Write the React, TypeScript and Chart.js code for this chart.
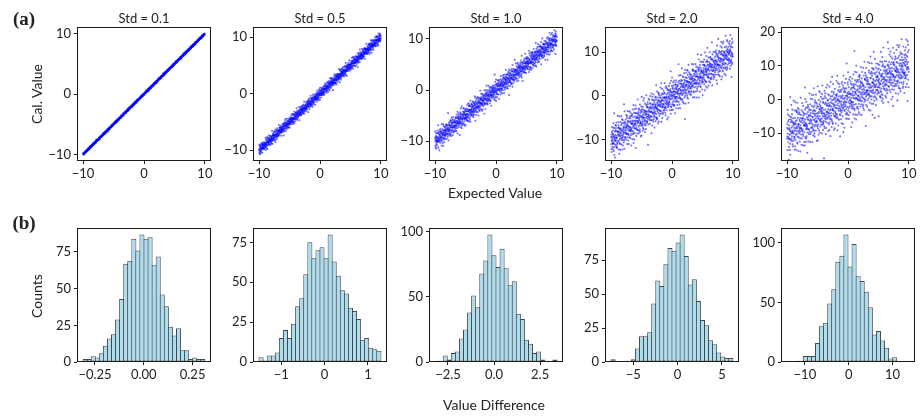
import React, { useEffect, useRef } from "react";
import { Chart, registerables } from "chart.js";

Chart.register(...registerables);

// Noise levels of the five simulated calibrations
const stdLabels = ["Std = 0.1", "Std = 0.5", "Std = 1.0", "Std = 2.0", "Std = 4.0"];

// Histogram counts of (calculated - expected), 30 bins per noise level
const counts01 = [2, 2, 4, 3, 6, 11, 16, 19, 29, 43, 67, 69, 84, 76, 87, 84, 85, 66, 72, 46, 38, 24, 18, 23, 8, 8, 2, 3, 2, 2];
const counts05 = [3, 1, 4, 4, 6, 15, 20, 15, 24, 35, 40, 55, 75, 65, 70, 72, 65, 80, 63, 54, 45, 43, 34, 32, 27, 14, 15, 9, 8, 7];
const counts10 = [1, 1, 5, 2, 7, 8, 18, 25, 38, 51, 42, 68, 78, 98, 82, 73, 87, 72, 59, 62, 37, 33, 17, 14, 7, 8, 2, 1, 0, 2];
const counts20 = [2, 0, 0, 1, 1, 2, 10, 19, 19, 22, 43, 60, 56, 72, 84, 82, 88, 94, 78, 57, 61, 45, 31, 27, 16, 13, 7, 4, 3, 3];
const counts40 = [1, 0, 1, 1, 5, 5, 5, 16, 30, 33, 49, 61, 84, 89, 107, 80, 99, 72, 68, 59, 46, 23, 26, 18, 12, 3, 4, 0, 0, 1];

// Outer bin edges of each histogram
const edges01 = [-0.311, 0.313];
const edges05 = [-1.51, 1.3];
const edges10 = [-3.2, 3.41];
const edges20 = [-7.5, 6.23];
const edges40 = [-14.06, 13.76];

// Expected values span this interval
const expectedRange = [-10, 10];

// Axis limits and ticks of the scatter row
const scatterXLimits = [-11, 11];
const scatterXTicks = [-10, 0, 10];
const scatterYLimits = [
  [-11.1, 11.1],
  [-11.9, 11.8],
  [-13.9, 12.35],
  [-14.8, 15.7],
  [-18.3, 21.5],
];
const scatterYTicks = [
  [-10, 0, 10],
  [-10, 0, 10],
  [-10, 0, 10],
  [-10, 0, 10],
  [-10, 0, 10, 20],
];

// Ticks of the histogram row
const histXTicks = [
  [-0.25, 0, 0.25],
  [-1, 0, 1],
  [-2.5, 0, 2.5],
  [-5, 0, 5],
  [-10, 0, 10],
];
const histXDecimals = [2, 0, 1, 0, 0];
const histYTicks = [
  [0, 25, 50, 75],
  [0, 25, 50, 75],
  [0, 50, 100],
  [0, 25, 50, 75],
  [0, 50, 100],
];

const allCounts = [counts01, counts05, counts10, counts20, counts40];
const allEdges = [edges01, edges05, edges10, edges20, edges40];

// Layout of the panel frames
const FRAME_LEFT = [77, 253, 429, 605, 781];
const FRAME_TOP = [27, 228];
const FRAME_W = 134;
const FRAME_H = 134;
const PAD_L = 44;
const PAD_T = 26;
const PAD_R = 12;
const PAD_B = 24;

const TEXT = "#222";
const FONT = "Lato, 'Open Sans', sans-serif";

function fmt(v: number, decimals: number) {
  const s = Math.abs(v) < 1e-12 ? (0).toFixed(decimals) : v.toFixed(decimals);
  return s.replace("-", "\u2212");
}

// Expand histogram counts back into the individual differences (ascending)
function differences(counts: number[], edges: number[]) {
  const bw = (edges[1] - edges[0]) / counts.length;
  const out: number[] = [];
  counts.forEach((c, i) => {
    for (let k = 0; k < c; k++) out.push(edges[0] + bw * (i + (k + 0.5) / c));
  });
  return out;
}

function radicalInverse(n: number, base: number) {
  let f = 1 / base;
  let r = 0;
  while (n > 0) {
    r += (n % base) * f;
    n = Math.floor(n / base);
    f /= base;
  }
  return r;
}

// Each difference is paired with an expected value; the pairing follows a
// Halton (2, 3) layout so the points cover the range evenly.
function scatterPoints(counts: number[], edges: number[], start: number) {
  const d = differences(counts, edges);
  const n = d.length;
  const [lo, hi] = expectedRange;
  const idx = d.map((_, j) => j);
  const order = [...idx].sort(
    (a, b) => radicalInverse(a + start, 3) - radicalInverse(b + start, 3)
  );
  const rank = new Array(n);
  order.forEach((j, k) => (rank[j] = k));
  return idx.map((j) => {
    const x = lo + (hi - lo) * radicalInverse(j + start, 2);
    return { x, y: x + d[rank[j]] };
  });
}

const framePlugin = {
  id: "frame",
  afterDraw(chart: any, _args: any, opts: any) {
    const { ctx, chartArea: a } = chart;
    ctx.save();
    ctx.strokeStyle = "#1a1a1a";
    ctx.lineWidth = 1;
    ctx.strokeRect(a.left + 0.5, a.top + 0.5, a.right - a.left - 1, a.bottom - a.top - 1);
    if (opts && opts.title) {
      ctx.fillStyle = TEXT;
      ctx.font = `13px ${FONT}`;
      ctx.textAlign = "center";
      ctx.textBaseline = "middle";
      ctx.fillText(opts.title, (a.left + a.right) / 2, a.top - 8);
    }
    ctx.restore();
  },
};

function axisOpts(min: number, max: number, ticks: number[], decimals: number, dir: "x" | "y") {
  return {
    type: "linear",
    min,
    max,
    offset: false,
    border: { display: false },
    grid: {
      display: true,
      drawOnChartArea: false,
      drawTicks: true,
      tickLength: 3,
      tickWidth: 1,
      tickColor: "#1a1a1a",
      color: "#1a1a1a",
      offset: false,
    },
    ticks: {
      color: TEXT,
      font: { family: FONT, size: 13 },
      padding: dir === "x" ? 2 : 3,
      autoSkip: false,
      maxRotation: 0,
      minRotation: 0,
      callback: (v: any) => fmt(Number(v), decimals),
    },
    afterBuildTicks: (s: any) => {
      s.ticks = ticks.map((v) => ({ value: v }));
    },
    afterFit: (s: any) => {
      if (dir === "y") s.width = PAD_L;
      else s.height = PAD_B;
    },
  };
}

function baseOptions(title: string | null) {
  return {
    animation: false,
    responsive: false,
    devicePixelRatio: 1,
    events: [],
    layout: { padding: { top: PAD_T, right: PAD_R, left: 0, bottom: 0 } },
    plugins: {
      legend: { display: false },
      tooltip: { enabled: false },
      frame: { title },
    },
  };
}

function scatterConfig(i: number) {
  return {
    type: "scatter",
    data: {
      datasets: [
        {
          data: scatterPoints(allCounts[i], allEdges[i], 1 + 211 * i),
          pointRadius: 1.05,
          pointHoverRadius: 0,
          pointBackgroundColor: "rgba(0,0,255,0.55)",
          pointBorderWidth: 0,
        },
      ],
    },
    options: {
      ...baseOptions(stdLabels[i]),
      scales: {
        x: axisOpts(scatterXLimits[0], scatterXLimits[1], scatterXTicks, 0, "x"),
        y: axisOpts(scatterYLimits[i][0], scatterYLimits[i][1], scatterYTicks[i], 0, "y"),
      },
    },
    plugins: [framePlugin],
  };
}

function histConfig(i: number) {
  const counts = allCounts[i];
  const [lo, hi] = allEdges[i];
  const bw = (hi - lo) / counts.length;
  const margin = 0.05 * (hi - lo);
  const xmin = lo - margin;
  const xmax = hi + margin;
  const binPx = (FRAME_W * bw) / (xmax - xmin);
  const ymax = 1.05 * Math.max(...counts);
  return {
    type: "bar",
    data: {
      datasets: [
        {
          data: counts.map((c, k) => ({ x: lo + bw * (k + 0.5), y: c })),
          backgroundColor: "rgb(171,221,241)",
          borderColor: "#474747",
          borderWidth: 1,
          borderSkipped: false,
          barPercentage: (binPx + 1) / binPx,
          categoryPercentage: 1,
        },
      ],
    },
    options: {
      ...baseOptions(null),
      scales: {
        x: axisOpts(xmin, xmax, histXTicks[i], histXDecimals[i], "x"),
        y: axisOpts(0, ymax, histYTicks[i], 0, "y"),
      },
    },
    plugins: [framePlugin],
  };
}

function Panel({ row, col }: { row: number; col: number }) {
  const ref = useRef<HTMLCanvasElement>(null);
  useEffect(() => {
    if (!ref.current) return;
    const cfg: any = row === 0 ? scatterConfig(col) : histConfig(col);
    const chart = new Chart(ref.current, cfg);
    return () => chart.destroy();
  }, [row, col]);
  const w = FRAME_W + PAD_L + PAD_R;
  const h = FRAME_H + PAD_T + PAD_B;
  return (
    <canvas
      ref={ref}
      width={w}
      height={h}
      style={{
        position: "absolute",
        left: FRAME_LEFT[col] - PAD_L,
        top: FRAME_TOP[row] - PAD_T,
        width: w,
        height: h,
      }}
    />
  );
}

function Label({
  text,
  x,
  y,
  size = 14,
  rotate = false,
  bold = false,
  serif = false,
}: {
  text: string;
  x: number;
  y: number;
  size?: number;
  rotate?: boolean;
  bold?: boolean;
  serif?: boolean;
}) {
  return (
    <div
      style={{
        position: "absolute",
        left: x,
        top: y,
        transform: `translate(-50%, -50%)${rotate ? " rotate(-90deg)" : ""}`,
        fontFamily: serif ? "'Liberation Serif', 'DejaVu Serif', serif" : FONT,
        fontWeight: bold ? 700 : 400,
        fontSize: size,
        lineHeight: 1,
        color: TEXT,
        whiteSpace: "nowrap",
      }}
    >
      {text}
    </div>
  );
}

export default function App() {
  const cols = [0, 1, 2, 3, 4];
  return (
    <div
      style={{
        position: "absolute",
        left: 0,
        top: 0,
        width: 922,
        height: 419,
        background: "#fff",
        overflow: "hidden",
      }}
    >
      {cols.map((c) => (
        <Panel key={`a${c}`} row={0} col={c} />
      ))}
      {cols.map((c) => (
        <Panel key={`b${c}`} row={1} col={c} />
      ))}
      <Label text="(a)" x={24} y={18} size={19} bold serif />
      <Label text="(b)" x={24} y={222} size={19} bold serif />
      <Label text="Cal. Value" x={37} y={94} rotate />
      <Label text="Counts" x={37} y={296} rotate />
      <Label text="Expected Value" x={495} y={193} />
      <Label text="Value Difference" x={494} y={405} />
    </div>
  );
}
